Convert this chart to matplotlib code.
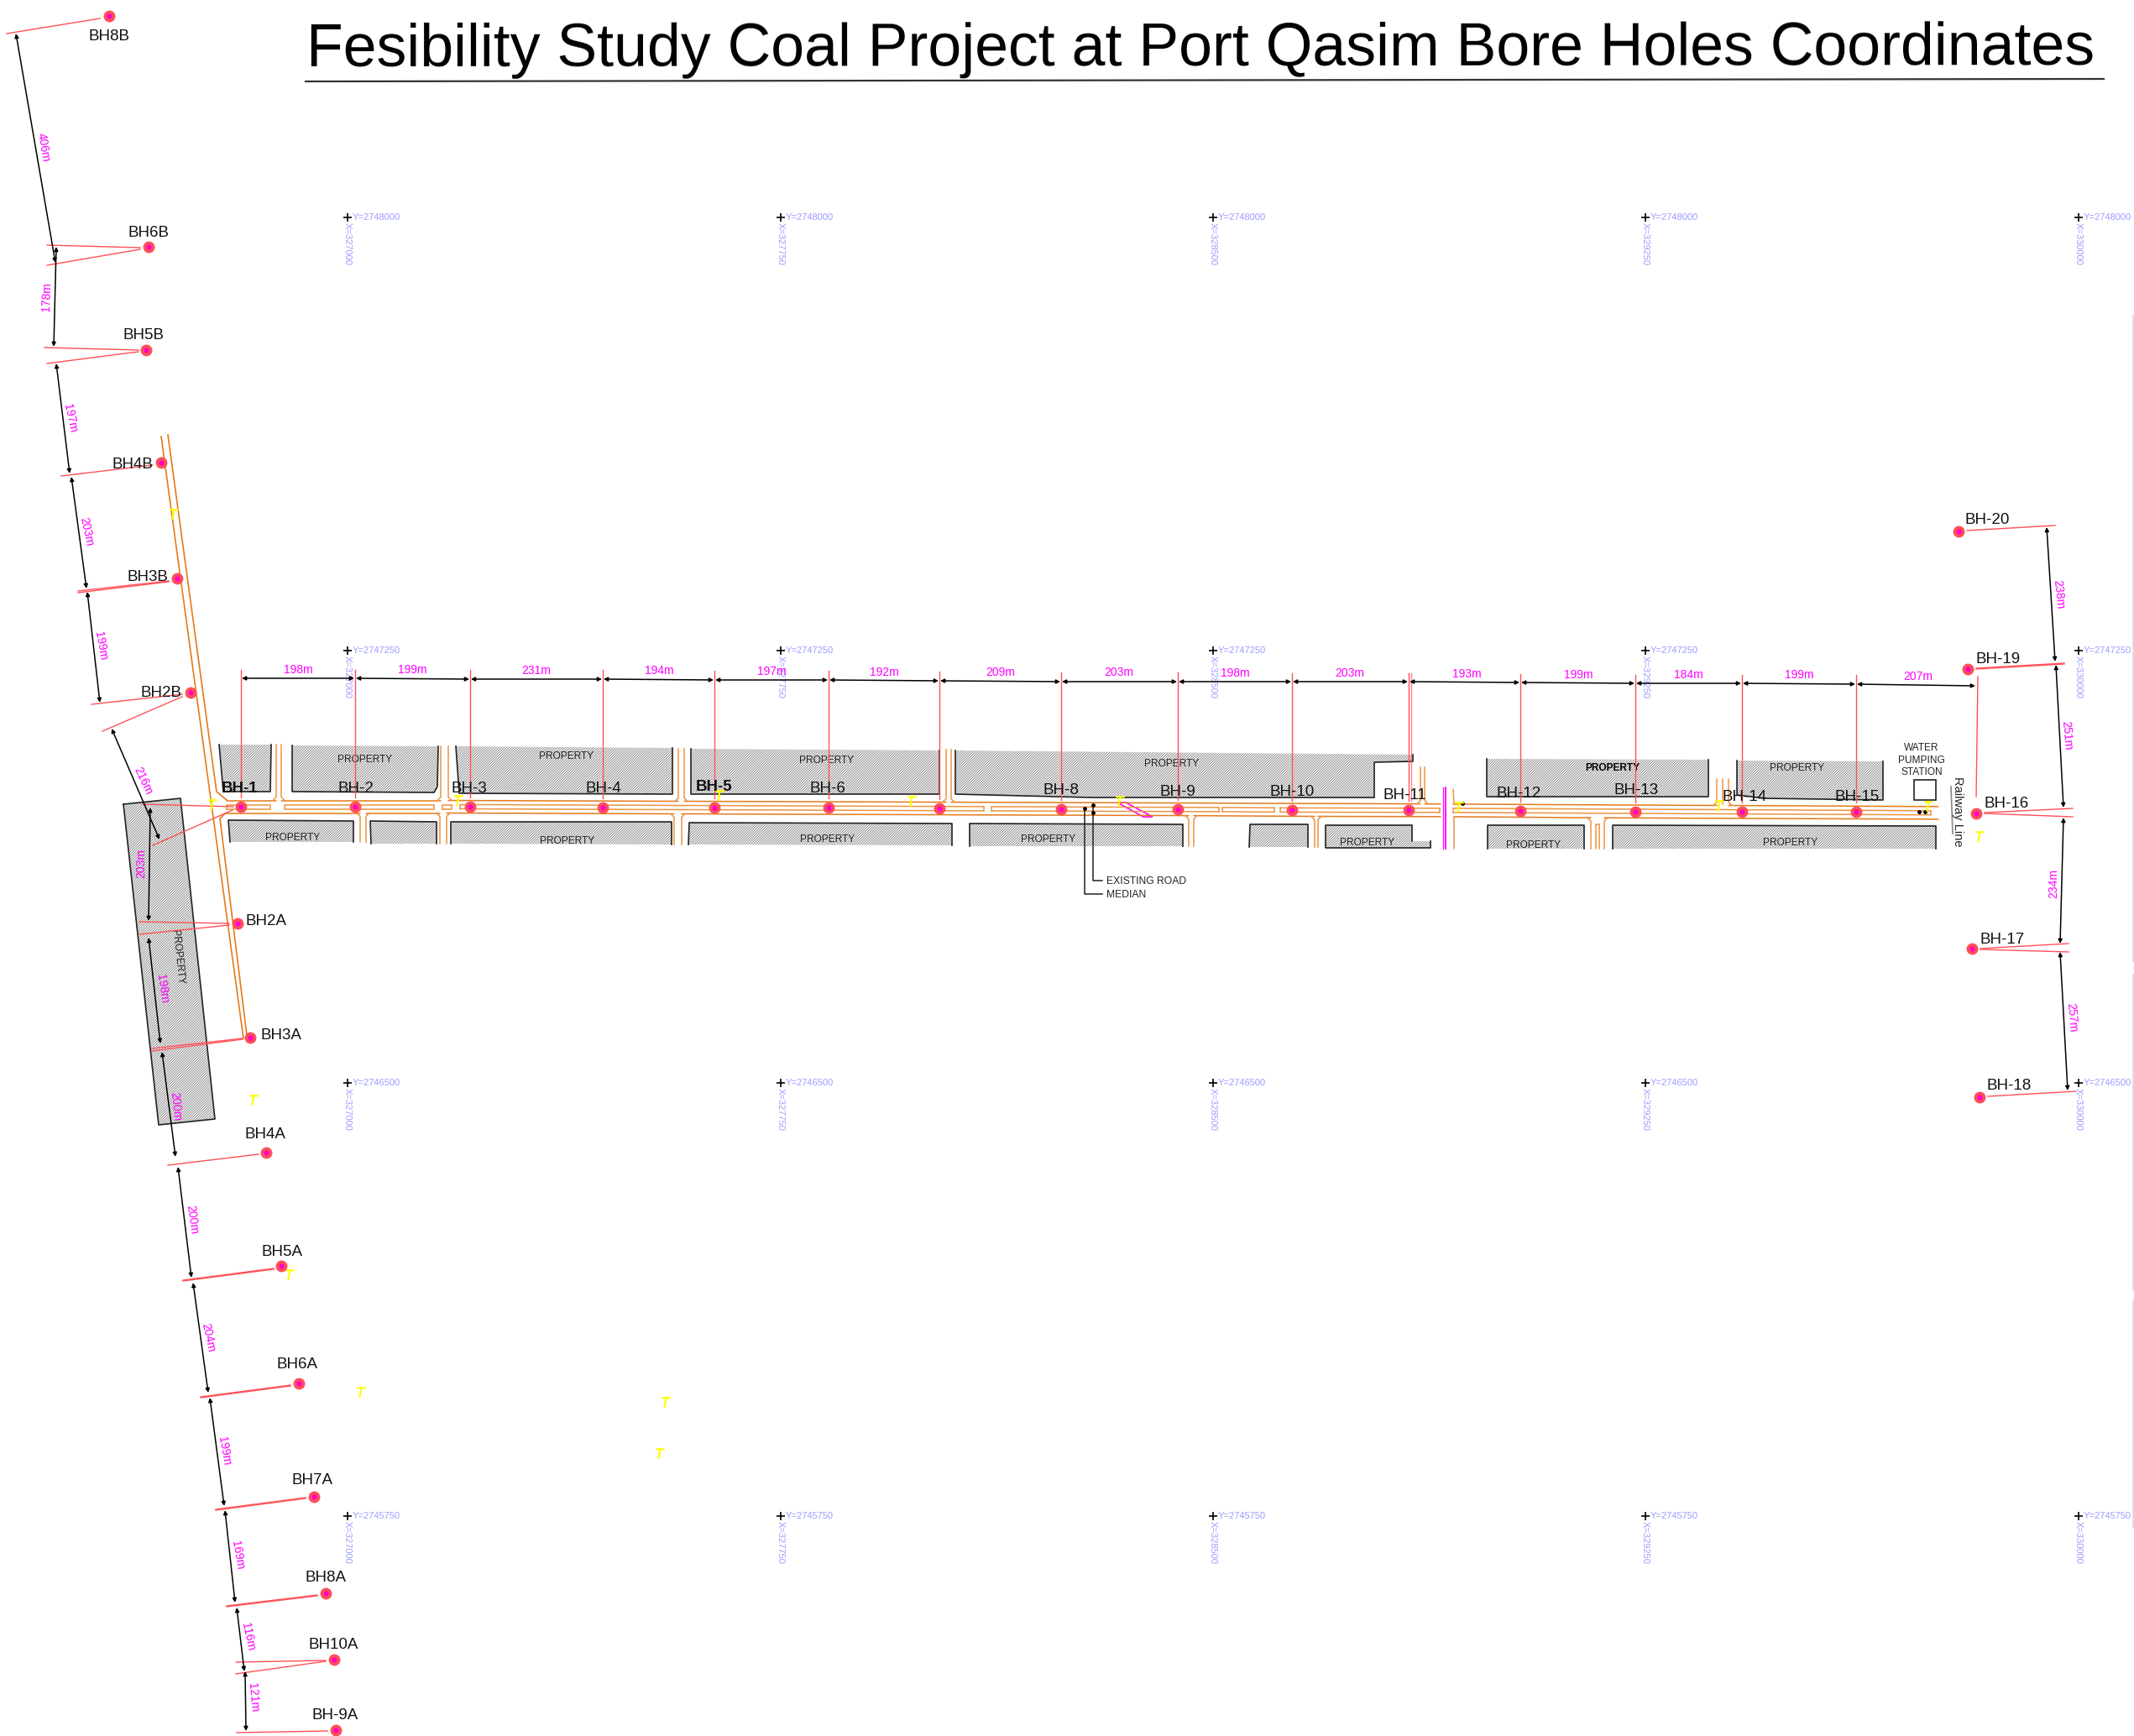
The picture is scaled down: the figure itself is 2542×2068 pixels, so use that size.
import numpy as np
import matplotlib
matplotlib.use('Agg')
import matplotlib.pyplot as plt
from matplotlib.patches import Polygon, Rectangle

plt.rcParams['font.family'] = ['Liberation Sans', 'DejaVu Sans']
plt.rcParams['hatch.linewidth'] = 0.6

W, H = 2542, 2068
ORANGE = '#EC9440'
ORANGE_DARK = '#E57A1C'
RED = '#FF5058'
MAGENTA = '#FF00FF'
BLUE = '#9C9CFF'

title = 'Fesibility Study Coal Project at Port Qasim Bore Holes Coordinates'

# grid crosses, sheet position of each survey coordinate
grid_e = [327000, 327750, 328500, 329250, 330000]
grid_n = [2748000, 2747250, 2746500, 2745750]
grid_x = [414, 930, 1445, 1960, 2476]
grid_y = [259, 775, 1290, 1806]

# bore holes along the road (BH-7 has no label on the sheet)
road_names = ['BH-1', 'BH-2', 'BH-3', 'BH-4', 'BH-5', 'BH-6', '', 'BH-8', 'BH-9', 'BH-10',
              'BH-11', 'BH-12', 'BH-13', 'BH-14', 'BH-15', 'BH-16']
road_x = [287, 423, 560, 718, 851, 987, 1119, 1264, 1403, 1539, 1678, 1811, 1948, 2075, 2211, 2354]
road_y = [961, 961, 961, 962, 962, 962, 963, 964, 964, 965, 965, 966, 967, 967, 967, 969]
road_label_x = [286, 424, 559, 719, 851, 986, 0, 1264, 1403, 1539, 1673, 1809, 1949, 2078, 2212, 2390]
road_label_y = [937, 937, 938, 937, 936, 937, 0, 940, 942, 942, 946, 943, 940, 947, 947, 955]
bold_names = ['BH-1', 'BH-5']

# spacing along the road
road_tick_top = [798, 798, 798, 798, 799, 799, 800, 801, 801, 802, 802, 803, 804, 804, 804, 806]
road_dim_y = [808, 808, 809, 809, 810, 810, 811, 812, 812, 812, 812, 813, 814, 814, 815, 817]
road_dims = ['198m', '199m', '231m', '194m', '197m', '192m', '209m', '203m', '198m', '203m',
             '193m', '199m', '184m', '199m', '207m']
road_dim_tx = [355, 491, 639, 785, 919, 1053, 1192, 1333, 1471, 1608, 1747, 1880, 2011, 2143, 2285]
road_dim_ty = [798, 798, 799, 799, 800, 801, 801, 801, 802, 802, 803, 804, 804, 804, 806]

# bore holes off the road
side_names = ['BH8B', 'BH6B', 'BH5B', 'BH4B', 'BH3B', 'BH2B', 'BH2A', 'BH3A', 'BH4A', 'BH5A', 'BH6A',
              'BH7A', 'BH8A', 'BH10A', 'BH-9A', 'BH-20', 'BH-19', 'BH-17', 'BH-18']
side_x = [130, 177, 174, 192, 211, 227, 283, 298, 317, 335, 356, 374, 388, 398, 400, 2333, 2344, 2349, 2358]
side_y = [19, 294, 417, 551, 689, 825, 1100, 1236, 1373, 1508, 1648, 1783, 1898, 1977, 2061, 633, 797, 1130, 1307]
side_label_x = [130, 177, 171, 158, 176, 192, 317, 335, 316, 336, 354, 372, 388, 397, 399, 2367, 2380, 2385, 2393]
side_label_y = [41, 276, 398, 551, 686, 823, 1095, 1232, 1349, 1489, 1624, 1762, 1877, 1957, 2042, 618, 784, 1118, 1292]

# red leader lines x0, y0, x1, y1
leaders = [
    (119, 22, 8, 40), (167, 295, 56, 292), (167, 297, 56, 316), (165, 417, 53, 414), (165, 419, 56, 433),
    (182, 554, 73, 567), (201, 692, 93, 704), (201, 693, 93, 706), (217, 827, 109, 839), (217, 830, 122, 871),
    (278, 961, 170, 958), (277, 965, 182, 1007), (273, 1100, 166, 1098), (273, 1102, 166, 1113),
    (289, 1237, 181, 1249), (289, 1238, 181, 1252), (308, 1375, 200, 1388), (326, 1511, 218, 1525),
    (326, 1512, 218, 1526), (346, 1650, 239, 1664), (346, 1651, 239, 1665), (364, 1784, 257, 1798),
    (364, 1785, 257, 1799), (378, 1900, 270, 1913), (378, 1901, 270, 1914), (388, 1978, 281, 1980),
    (388, 1979, 281, 1994), (390, 2062, 282, 2064), (2343, 632, 2448, 626), (2354, 796, 2459, 790),
    (2354, 797, 2459, 791), (2356, 806, 2354, 949), (2364, 968, 2469, 963), (2364, 969, 2469, 973),
    (2359, 1130, 2464, 1124), (2359, 1131, 2464, 1134), (2368, 1306, 2473, 1300),
]

# black dimension lines x0, y0, x1, y1 with text and text position
dim_lines = [
    (19, 40, 66, 313), (67, 294, 64, 413), (67, 433, 83, 564), (85, 568, 103, 701), (104, 705, 119, 837),
    (133, 868, 190, 1000), (179, 962, 177, 1097), (177, 1117, 191, 1243), (193, 1253, 209, 1378),
    (212, 1390, 228, 1522), (230, 1528, 248, 1659), (250, 1665, 267, 1794), (268, 1799, 280, 1909),
    (282, 1915, 291, 1991), (292, 1991, 293, 2062), (2438, 628, 2448, 788), (2449, 792, 2458, 962),
    (2458, 974, 2454, 1124), (2454, 1134, 2463, 1299),
]
dim_text = ['406m', '178m', '197m', '203m', '199m', '216m', '203m', '198m', '200m', '200m', '204m', '199m',
            '169m', '116m', '121m', '238m', '251m', '234m', '257m']
dim_tx = [52, 56, 84, 103, 120, 170, 168, 193, 209, 229, 248, 267, 283, 295, 301, 2452, 2462, 2446, 2468]
dim_ty = [175, 353, 498, 633, 769, 930, 1028, 1178, 1318, 1453, 1593, 1728, 1852, 1950, 2022, 708, 876, 1052, 1212]
dim_rot = [-80, 88, -78, -78, -80, -65, 90, -82, -84, -82, -78, -80, -80, -78, -85, -84, -85, 90, -85]

# hatched properties, outline corners
prop_top = [
    [(261, 887), (323, 887), (322, 943), (266, 943)],
    [(348, 888), (522, 889), (521, 937), (517, 944), (348, 943)],
    [(543, 889), (801, 891), (801, 946), (547, 945)],
    [(823, 892), (1119, 894), (1119, 946), (823, 946)],
    [(1138, 894), (1683, 899), (1683, 907), (1637, 908), (1637, 950), (1300, 950), (1138, 946)],
    [(1771, 904), (2035, 905), (2035, 949), (1771, 949)],
    [(2069, 906), (2243, 907), (2243, 953), (2102, 951), (2069, 947)],
]
prop_bottom = [
    [(272, 977), (421, 978), (421, 1003), (274, 1003)],
    [(441, 978), (520, 979), (520, 1005), (442, 1005)],
    [(537, 979), (800, 979), (800, 1006), (537, 1005)],
    [(821, 980), (1134, 981), (1134, 1007), (820, 1006)],
    [(1155, 981), (1409, 982), (1409, 1008), (1155, 1008)],
    [(1489, 982), (1558, 982), (1558, 1009), (1488, 1009)],
    [(1579, 983), (1682, 983), (1682, 1002), (1704, 1002), (1704, 1010), (1579, 1010)],
    [(1772, 983), (1887, 983), (1887, 1011), (1772, 1011)],
    [(1921, 983), (2306, 984), (2306, 1011), (1921, 1011)],
]
prop_left = [(147, 958), (215, 951), (256, 1333), (189, 1340)]
prop_label_x = [435, 675, 985, 349, 676, 986, 1396, 1249, 1629, 2141, 1827, 2133]
prop_label_y = [904, 900, 905, 997, 1001, 999, 909, 999, 1003, 914, 1006, 1003]

# road linework
median_segs = [(270, 322), (339, 517), (527, 538), (548, 1172), (1181, 1452), (1456, 1518), (1525, 1715), (1731, 2300)]
top_segs = [(270, 329), (335, 525), (534, 808), (815, 1127), (1133, 1692), (1697, 1716), (1731, 2045), (2059, 2309)]
bottom_segs = [(268, 429), (436, 524), (532, 803), (812, 1416), (1422, 1566), (1570, 1716), (1732, 1895), (1911, 2309)]
streets_up = [(329, 335, 887), (525, 534, 889), (808, 815, 892), (1127, 1133, 893), (1692, 1697, 914), (2045, 2059, 928)]
streets_down = [(429, 436, 1003), (524, 532, 1005), (803, 812, 1006), (1416, 1422, 1008), (1566, 1570, 1009),
                (1895, 1911, 1011)]

yellow_x = [207, 302, 345, 430, 793, 786, 253, 546, 857, 1086, 1334, 1738, 2048, 2297, 2358]
yellow_y = [612, 1310, 1518, 1658, 1670, 1731, 958, 953, 947, 954, 954, 961, 959, 960, 996]

sheet_edge = [(376, 1145), (1161, 1537), (1550, 1820)]


def road_centre(x):
    return np.interp(x, road_x, road_y)


def seg(ax, x0, y0, x1, y1, c=ORANGE, lw=1.1):
    ax.plot([x0, x1], [y0, y1], color=c, lw=lw, solid_capstyle='round')


def prop(ax, pts, closed=False):
    ax.add_patch(Polygon(pts, closed=True, facecolor='white', edgecolor='#7a7a7a', hatch='/' * 11, lw=0, zorder=1))
    xs = [p[0] for p in pts]
    ys = [p[1] for p in pts]
    if closed:
        xs.append(xs[0])
        ys.append(ys[0])
        ax.plot(xs, ys, color='#222222', lw=1.2, zorder=2)
    else:
        # the sheet cuts the hatch off on one long side
        ax.plot(xs[1:] + xs[:1], ys[1:] + ys[:1], color='#222222', lw=1.2, zorder=2)


fig = plt.figure(figsize=(W / 100, H / 100), dpi=100)
ax = fig.add_axes([0, 0, 1, 1])
ax.set_xlim(0, W)
ax.set_ylim(H, 0)
ax.axis('off')

# title
ax.text(365, 79, title, fontsize=51.6, ha='left', va='baseline', color='black', rotation=0.05)
ax.plot([364, 2506], [97, 94], color='#333333', lw=1.6)

# grid crosses
for i, gx in enumerate(grid_x):
    for j, gy in enumerate(grid_y):
        ax.plot(gx, gy, marker='+', color='black', ms=7, mew=1.2)
        ax.text(gx + 6, gy, 'Y=%d' % grid_n[j], fontsize=8, color=BLUE, ha='left', va='center')
        ax.text(gx, gy + 6, 'X=%d' % grid_e[i], fontsize=8, color=BLUE, ha='center', va='top', rotation=-90)

# properties
for pts in prop_top:
    prop(ax, pts)
for pts in prop_bottom:
    prop(ax, pts[2:] + pts[:2])
prop(ax, prop_left, closed=True)
ax.add_patch(Rectangle((2280, 929), 26, 24, fill=False, ec='#222222', lw=1.2))

for px, py in zip(prop_label_x, prop_label_y):
    ax.text(px, py + 1, 'PROPERTY', fontsize=8.6, ha='center', va='center', color='#222222', zorder=3)
ax.text(1921, 915, 'PROPERTY', fontsize=8.6, ha='center', va='center', color='black', weight='bold', zorder=3)
ax.text(211, 1140, 'PROPERTY', fontsize=8.6, ha='center', va='center', color='#222222', rotation=-84, zorder=3)
for wy, word in zip([891, 906, 920], ['WATER', 'PUMPING', 'STATION']):
    ax.text(2289, wy, word, fontsize=8.6, ha='center', va='center', color='#222222')

# road
for a, b in median_segs:
    for off in (-2.5, 2.5):
        seg(ax, a, road_centre(a) + off, b, road_centre(b) + off)
    seg(ax, a, road_centre(a) - 2.5, a, road_centre(a) + 2.5)
    seg(ax, b, road_centre(b) - 2.5, b, road_centre(b) + 2.5)
for a, b in top_segs:
    seg(ax, a, road_centre(a) - 7.5, b, road_centre(b) - 7.5, c=ORANGE_DARK)
for a, b in bottom_segs:
    seg(ax, a, road_centre(a) + 7.5, b, road_centre(b) + 7.5, c=ORANGE_DARK)
for a, b, far in streets_up:
    ya, yb = road_centre(a) - 7.5, road_centre(b) - 7.5
    ax.plot([a - 4, a, a], [ya, ya - 4, far], color=ORANGE, lw=1.1)
    ax.plot([b + 4, b, b], [yb, yb - 4, far], color=ORANGE, lw=1.1)
for a, b, far in streets_down:
    ya, yb = road_centre(a) + 7.5, road_centre(b) + 7.5
    ax.plot([a - 4, a, a], [ya, ya + 4, far], color=ORANGE, lw=1.1)
    ax.plot([b + 4, b, b], [yb, yb + 4, far], color=ORANGE, lw=1.1)
seg(ax, 2052, 928, 2052, 958)
seg(ax, 1901, 1011, 1901, 982)
seg(ax, 1905, 1011, 1905, 982)
seg(ax, 1901, 982, 1905, 982)
seg(ax, 1731, 940, 1732, 958)
seg(ax, 1732, 973, 1732, 1011)

# diagonal road
ax.plot([192, 290], [520, 1237], color=ORANGE_DARK, lw=1.2)
ax.plot([200, 252, 258, 270], [518, 900, 943, 953], color=ORANGE_DARK, lw=1.2)
ax.plot([294, 262, 268], [1233, 975, 969], color=ORANGE_DARK, lw=1.2)

# magenta crossing
ax.plot([1719, 1719], [938, 1011], color=MAGENTA, lw=0.9)
ax.plot([1722, 1722], [938, 1011], color=MAGENTA, lw=1.3)
ax.add_patch(Polygon([(1331, 956), (1362, 973), (1373, 973), (1341, 956)], closed=True, fill=False, ec=MAGENTA, lw=1.2))

# existing road callouts
ax.plot([1302, 1302, 1313], [959, 1049, 1049], color='#222222', lw=1.1)
ax.plot([1292, 1292, 1313], [963, 1065, 1065], color='#222222', lw=1.1)
ax.scatter([1302, 1302, 1292, 2286, 2293, 1742], [959, 968, 963, 967, 967, 957], s=6, color='black', zorder=5)
ax.text(1318, 1050, 'EXISTING ROAD', fontsize=8.7, ha='left', va='center', color='#222222')
ax.text(1318, 1066, 'MEDIAN', fontsize=8.7, ha='left', va='center', color='#222222')

# railway
ax.text(2332, 967, 'Railway Line', fontsize=10.5, ha='center', va='center', rotation=-90, color='#222222')
ax.plot([2324, 2326], [937, 993], color='#888888', lw=1.2)

# leaders
for x0, y0, x1, y1 in leaders:
    ax.plot([x0, x1], [y0, y1], color=RED, lw=1.0, zorder=4)
for rx, ry, top in zip(road_x, road_y, road_tick_top):
    if rx == 2354:
        continue
    ax.plot([rx, rx], [top, ry - 11], color=RED, lw=1.0, zorder=4)
ax.plot([1681, 1681], [802, 954], color=RED, lw=1.0, alpha=0.7, zorder=4)

# dimensions
for i, txt in enumerate(road_dims):
    ax.annotate('', xy=(road_x[i + 1] - 1, road_dim_y[i + 1]), xytext=(road_x[i] + 1, road_dim_y[i]),
                arrowprops=dict(arrowstyle='<|-|>', color='black', lw=1.1, mutation_scale=7, shrinkA=0, shrinkB=0), zorder=5)
    ax.text(road_dim_tx[i], road_dim_ty[i], txt, fontsize=10, color=MAGENTA, ha='center', va='center', zorder=6)
for (x0, y0, x1, y1), txt, tx, ty, rot in zip(dim_lines, dim_text, dim_tx, dim_ty, dim_rot):
    ax.annotate('', xy=(x1, y1), xytext=(x0, y0),
                arrowprops=dict(arrowstyle='<|-|>', color='black', lw=1.1, mutation_scale=7, shrinkA=0, shrinkB=0), zorder=5)
    ax.text(tx, ty, txt, fontsize=10, color=MAGENTA, ha='center', va='center', rotation=rot, zorder=6)

# yellow survey marks
ax.scatter(yellow_x, yellow_y, marker='$T$', s=70, color='#FFFF00', linewidths=0.5, zorder=6)

# holes
all_x = road_x + side_x
all_y = road_y + side_y
ax.scatter(all_x, all_y, s=100, color='#FF4D5A', linewidths=0, zorder=7)
ax.scatter(all_x, all_y, s=18, color='#FF00CC', linewidths=0, zorder=8)

# labels
for name, lx, ly in zip(road_names, road_label_x, road_label_y):
    if name:
        ax.text(lx, ly + 2, name, fontsize=13.5, ha='center', va='center', color='#111111', zorder=9,
                weight='bold' if name in bold_names else 'normal')
for name, lx, ly in zip(side_names, side_label_x, side_label_y):
    ax.text(lx, ly + 2, name, fontsize=13.5, ha='center', va='center', color='#111111', zorder=9)

# sheet edge
for y0, y1 in sheet_edge:
    ax.plot([2541, 2541], [y0, y1], color='#dddddd', lw=1.4)

fig.savefig('out.png', dpi=100)
